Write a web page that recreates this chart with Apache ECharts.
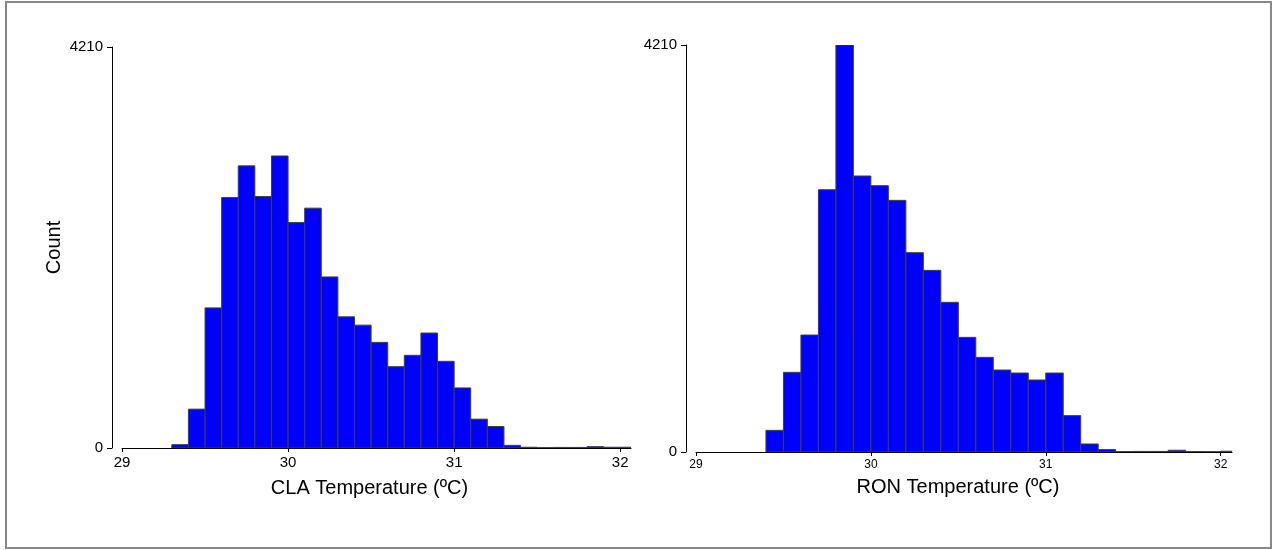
<!DOCTYPE html>
<html>
<head>
<meta charset="utf-8">
<title>CLA / RON Temperature</title>
<script src="https://cdn.jsdelivr.net/npm/echarts@6/dist/echarts.min.js"></script>
<style>
	html,body{margin:0;padding:0;background:#fff;}
	#chart{width:1276px;height:550px;}
</style>
</head>
<body>
<div id="chart"></div>
<script>
// bin starts (ºC), bin width 0.1
var binWidth = 0.1;
var claBins = [29.3,29.4,29.5,29.6,29.7,29.8,29.9,30.0,30.1,30.2,30.3,30.4,30.5,30.6,30.7,30.8,30.9,31.0,31.1,31.2,31.3,31.4,31.5,31.6,31.7,31.8,31.9,32.0];
var claCounts = [35,408,1471,2630,2962,2640,3066,2368,2518,1796,1377,1290,1109,854,973,1207,910,631,303,226,28,8,4,6,6,14,8,8];
var ronBins = [29.4,29.5,29.6,29.7,29.8,29.9,30.0,30.1,30.2,30.3,30.4,30.5,30.6,30.7,30.8,30.9,31.0,31.1,31.2,31.3,31.4,31.5,31.6,31.7,31.8,31.9,32.0];
var ronCounts = [224,824,1210,2713,4210,2855,2755,2603,2062,1879,1548,1186,979,848,817,745,817,376,83,26,4,6,6,18,4,3,8];
// tick labels
var xTicks = [29,30,31,32];
var yTicks = [0,4210];
var xMin = 29, xMax = 32.065;

var font = "'Liberation Sans', Arial, sans-serif";

//把分组起点和计数拼成 [起点, 终点, 计数]
function toBins(starts, counts){
	return starts.map(function(s, i){
		return [s, s + binWidth, counts[i]];
	});
}

function plain(v){
	return String(v);
}

function renderBin(params, api){
	var p0 = api.coord([api.value(0), 0]);
	var p1 = api.coord([api.value(1), api.value(2)]);
	return {
		type:"rect",
		shape:{x:p0[0], y:p1[1], width:p1[0]-p0[0], height:p0[1]-p1[1]},
		style:{fill:"#0000ff", stroke:"#404040", lineWidth:1}
	};
}

function xAxisOf(gridIndex, name, labelSize, labelMargin, nameGap, shift){
	return {
		gridIndex:gridIndex,
		type:"value",
		min:xMin,
		max:xMax,
		interval:1,
		name:name,
		nameLocation:"middle",
		nameGap:nameGap,
		nameTextStyle:{fontFamily:font, fontSize:20, color:"#000", padding:[0, shift, 0, 0]},
		axisLine:{show:true, onZero:false, lineStyle:{color:"#000", width:1}},
		axisTick:{show:true, length:4, customValues:xTicks, lineStyle:{color:"#000"}},
		axisLabel:{customValues:xTicks, formatter:plain, fontFamily:font, fontSize:labelSize, color:"#000", margin:labelMargin},
		splitLine:{show:false}
	};
}

function yAxisOf(gridIndex, name){
	return {
		gridIndex:gridIndex,
		type:"value",
		min:yTicks[0],
		max:yTicks[1],
		interval:yTicks[1],
		offset:10,
		name:name,
		nameLocation:"middle",
		nameGap:48,
		nameTextStyle:{fontFamily:font, fontSize:20, color:"#000"},
		axisLine:{show:true, lineStyle:{color:"#000", width:1}},
		axisTick:{show:true, length:5, lineStyle:{color:"#000"}},
		axisLabel:{formatter:plain, fontFamily:font, fontSize:15, color:"#000", margin:9},
		splitLine:{show:false}
	};
}

var myChart = echarts.init(document.getElementById("chart"));
var option = {
	animation:false,
	backgroundColor:"#fff",
	//外框
	graphic:[{
		type:"rect",
		shape:{x:6, y:2, width:1265, height:546},
		style:{fill:null, stroke:"#888", lineWidth:2},
		silent:true
	}],
	grid:[
		{left:122, top:47, width:509, height:401, outerBoundsMode:"none"},
		{left:696, top:45, width:536, height:407, outerBoundsMode:"none"}
	],
	xAxis:[
		xAxisOf(0, "CLA Temperature (ºC)", 15, 7, 30, 14),
		xAxisOf(1, "RON Temperature (ºC)", 12, 7, 25, 12)
	],
	yAxis:[
		yAxisOf(0, "Count"),
		yAxisOf(1, "")
	],
	series:[{
		type:"custom",
		xAxisIndex:0,
		yAxisIndex:0,
		clip:true,
		renderItem:renderBin,
		encode:{x:[0,1], y:2},
		data:toBins(claBins, claCounts)
	},{
		type:"custom",
		xAxisIndex:1,
		yAxisIndex:1,
		clip:true,
		renderItem:renderBin,
		encode:{x:[0,1], y:2},
		data:toBins(ronBins, ronCounts)
	}]
};
myChart.setOption(option);
</script>
</body>
</html>
